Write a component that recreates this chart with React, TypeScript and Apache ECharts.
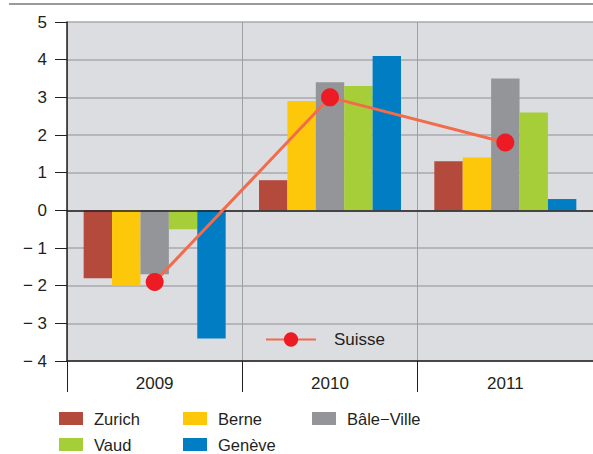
import React, { useEffect, useRef } from "react";
import * as echarts from "echarts";

const years = ["2009", "2010", "2011"];
const zurich = [-1.8, 0.8, 1.3];
const berne = [-2.0, 2.9, 1.4];
const baleVille = [-1.7, 3.4, 3.5];
const vaud = [-0.5, 3.3, 2.6];
const geneve = [-3.4, 4.1, 0.3];
const suisse = [-1.9, 3.0, 1.8];

const regionNames = ["Zurich", "Berne", "Bâle−Ville", "Vaud", "Genève"];
const regionValues = [zurich, berne, baleVille, vaud, geneve];
const regionColors = ["#b34a3c", "#fec80a", "#939598", "#a6ce39", "#007dc3"];

const TEXT = "#231f20";
const FONT = "'Liberation Sans', Arial, sans-serif";

export default function App() {
  const ref = useRef<HTMLDivElement>(null);
  useEffect(() => {
    if (!ref.current) return;
    const chart = echarts.init(ref.current, undefined, { renderer: "svg" });

    const legendPos = [
      { left: 59, top: 410 },
      { left: 183, top: 410 },
      { left: 312, top: 410 },
      { left: 59, top: 436 },
      { left: 183, top: 436 },
    ];

    const legends: any[] = regionNames.map((n, i) => ({
      data: [n],
      left: legendPos[i].left,
      top: legendPos[i].top,
      padding: 0,
      icon: "rect",
      itemWidth: 24,
      itemHeight: 13,
      selectedMode: false,
      textStyle: { fontSize: 16.5, lineHeight: 14, color: TEXT, fontFamily: FONT, padding: [0, 0, 0, 6] },
    }));
    legends.push({
      data: ["Suisse"],
      left: 265,
      top: 331,
      padding: 0,
      itemWidth: 50,
      itemHeight: 18,
      selectedMode: false,
      textStyle: { fontSize: 17, color: TEXT, fontFamily: FONT, padding: [0, 0, 0, 13] },
    });

    const bars: any[] = regionNames.map((n, i) => ({
      name: n,
      type: "bar",
      data: regionValues[i],
      barGap: "0%",
      barCategoryGap: "19%",
      itemStyle: { color: regionColors[i] },
      ...(i === 0
        ? {
            markLine: {
              silent: true,
              symbol: "none",
              label: { show: false },
              lineStyle: { color: TEXT, width: 1.5, type: "solid" },
              data: [{ yAxis: 0 }],
            },
          }
        : {}),
    }));

    chart.setOption({
      animation: false,
      backgroundColor: "#ffffff",
      textStyle: { fontFamily: FONT },
      graphic: [
        {
          type: "line",
          shape: { x1: 9, y1: 4, x2: 593, y2: 4 },
          style: { stroke: "#9a9a9a", lineWidth: 2 },
        },
      ],
      grid: { left: 67, top: 22, right: -2, bottom: 93, show: true, backgroundColor: "#dcdde0", borderWidth: 0 },
      legend: legends,
      xAxis: {
        type: "category",
        data: years,
        axisLine: { onZero: false, lineStyle: { color: TEXT, width: 1.5 } },
        axisTick: { show: true, length: 31, lineStyle: { color: TEXT } },
        axisLabel: { fontSize: 17, color: TEXT, margin: 14, fontFamily: FONT },
        splitLine: { show: true, lineStyle: { color: "#9d9fa2", width: 1 } },
      },
      yAxis: {
        type: "value",
        min: -4,
        max: 5,
        interval: 1,
        axisLine: { show: true, lineStyle: { color: TEXT, width: 1.5 } },
        axisTick: { show: true, length: 12, lineStyle: { color: TEXT } },
        axisLabel: {
          fontSize: 17,
          color: TEXT,
          margin: 20,
          fontFamily: FONT,
          formatter: (v: number) => (v < 0 ? "− " + Math.abs(v) : String(v)),
        },
        splitLine: { show: true, lineStyle: { color: "#a7a9ac", width: 1.5 } },
      },
      series: [
        ...bars,
        {
          name: "Suisse",
          type: "line",
          data: suisse,
          z: 5,
          symbol: "circle",
          symbolSize: 18,
          lineStyle: { color: "#f26b4a", width: 3 },
          itemStyle: { color: "#ed1c24" },
        },
      ],
    });
    return () => chart.dispose();
  }, []);
  return (
    <div
      ref={ref}
      style={{ position: "fixed", left: 0, top: 0, width: 593, height: 454 }}
    />
  );
}
